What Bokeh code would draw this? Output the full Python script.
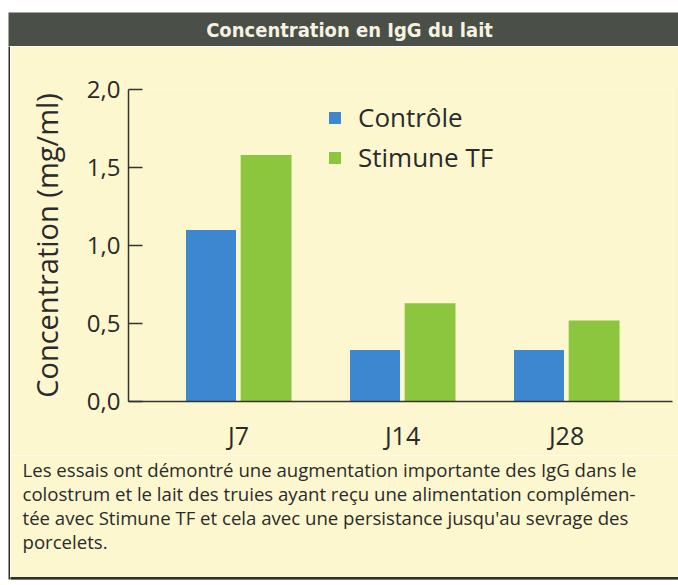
from bokeh.plotting import figure
from bokeh.models import (Range1d, FixedTicker, CustomJSTickFormatter,
                          ColumnDataSource)
from bokeh.layouts import column, row
from bokeh.transform import dodge
from bokeh.embed import file_html
from bokeh.resources import INLINE
from bokeh.core.properties import value

# ---------------- data ----------------
categories = ["J7", "J14", "J28"]
controle = [1.10, 0.33, 0.33]
stimune = [1.58, 0.63, 0.52]
series_names = ["Contrôle", "Stimune TF"]
y_ticks = [0.0, 0.5, 1.0, 1.5, 2.0]
title_text = "Concentration en IgG du lait"
y_label = "Concentration (mg/ml)"
caption_lines = [
    "Les essais ont démontré une augmentation importante des IgG dans le",
    "colostrum et le lait des truies ayant reçu une alimentation complémen-",
    "tée avec Stimune TF et cela avec une persistance jusqu'au sevrage des",
    "porcelets.",
]

# ---------------- style ----------------
BG = "#fdf7cf"
DARK = "#4a4f47"
EDGE = "#2e2e2e"
TXT = "#2a2a2a"
BLUE = "#3d87d1"
GREEN = "#8cc63e"
FONT = "Open Sans"
TITLE_FONT = "DejaVu Sans Condensed"
PAGE_W = 678


def bare(fig):
    fig.axis.visible = False
    fig.grid.visible = False
    fig.outline_line_color = None
    fig.frame_align = False
    return fig


# ---------------- title band ----------------
t = bare(figure(width=PAGE_W, height=46, output_backend="svg", toolbar_location=None,
                x_range=Range1d(0, 1), y_range=Range1d(0, 1),
                min_border_left=8, min_border_top=12, min_border_right=0,
                min_border_bottom=0))
t.background_fill_color = DARK
t.border_fill_color = "white"
t.text(x=[0.509], y=[0.5], text=[title_text], text_align="center",
       text_baseline="middle", text_font=value(TITLE_FONT),
       text_font_style="bold", text_font_size="20px", text_color="#f6f2e2")

# ---------------- left edge strip ----------------
s = bare(figure(width=10, height=539, output_backend="svg", toolbar_location=None,
                x_range=Range1d(0, 1), y_range=Range1d(0, 1),
                min_border_left=8, min_border_right=0, min_border_top=0,
                min_border_bottom=6))
s.background_fill_color = EDGE
s.border_fill_color = "white"

# ---------------- main chart ----------------
src = ColumnDataSource(dict(idx=list(range(len(categories))),
                            controle=controle, stimune=stimune))

p = figure(width=668, height=409, output_backend="svg", toolbar_location=None,
           x_range=Range1d(-0.671, 2.646), y_range=Range1d(y_ticks[0], y_ticks[-1]),
           min_border_left=118, min_border_right=6,
           min_border_top=43, min_border_bottom=54)
p.frame_align = False
p.background_fill_color = BG
p.border_fill_color = BG
p.outline_line_color = None
p.grid.visible = False

p.vbar(x=dodge("idx", -0.168, range=p.x_range), top="controle", width=0.305,
       source=src, color=BLUE, line_color=None, legend_label=series_names[0])
p.vbar(x=dodge("idx", 0.168, range=p.x_range), top="stimune", width=0.31,
       source=src, color=GREEN, line_color=None, legend_label=series_names[1])

# y axis
p.yaxis.ticker = FixedTicker(ticks=y_ticks)
p.yaxis.formatter = CustomJSTickFormatter(code="return tick.toFixed(1).replace('.', ',');")
p.yaxis.major_tick_in = 14
p.yaxis.major_tick_out = 0
p.yaxis.minor_tick_line_color = None
p.yaxis.major_tick_line_color = "#333333"
p.yaxis.major_tick_line_width = 1.5
p.yaxis.axis_label = y_label
p.yaxis.axis_label_text_font = FONT
p.yaxis.axis_label_text_font_style = "normal"
p.yaxis.axis_label_text_font_size = "29px"
p.yaxis.axis_label_text_color = TXT
p.yaxis.axis_label_standoff = 18
p.yaxis.major_label_text_font = FONT
p.yaxis.major_label_text_font_size = "24px"
p.yaxis.major_label_text_color = TXT
p.yaxis.major_label_standoff = 8

# x axis
p.xaxis.ticker = FixedTicker(ticks=list(range(len(categories))))
p.xaxis.major_label_overrides = {i: c for i, c in enumerate(categories)}
p.xaxis.major_tick_line_color = None
p.xaxis.minor_tick_line_color = None
p.xaxis.major_label_text_font = FONT
p.xaxis.major_label_text_font_size = "25px"
p.xaxis.major_label_text_color = TXT
p.xaxis.major_label_standoff = 10

for ax in (p.xaxis, p.yaxis):
    ax.axis_line_color = "#333333"
    ax.axis_line_width = 1.5

# legend
lg = p.legend[0]
lg.location = (199, 226)
lg.margin = 0
lg.padding = 0
lg.border_line_color = None
lg.background_fill_alpha = 0
lg.glyph_width = 15
lg.glyph_height = 15
lg.label_height = 28
lg.spacing = 4
lg.label_standoff = 16
lg.label_text_font = FONT
lg.label_text_font_size = "26px"
lg.label_text_color = TXT

# ---------------- caption ----------------
c = bare(figure(width=668, height=130, output_backend="svg", toolbar_location=None,
                x_range=Range1d(0, 668), y_range=Range1d(124, 0),
                min_border_left=0, min_border_right=0, min_border_top=0,
                min_border_bottom=6))
c.background_fill_color = BG
c.border_fill_color = "white"
c.quad(left=[0], right=[668], top=[122], bottom=[124], color=EDGE)
line_y = [14, 38, 62, 86]
c.text(x=[12] * len(caption_lines), y=line_y, text=caption_lines,
       text_align="left", text_baseline="middle", text_font=value(FONT),
       text_font_size="18.6px", text_color=TXT)

layout = column(t, row(s, column(p, c, spacing=0), spacing=0), spacing=0)
open("out.html", "w").write(file_html(layout, INLINE))
